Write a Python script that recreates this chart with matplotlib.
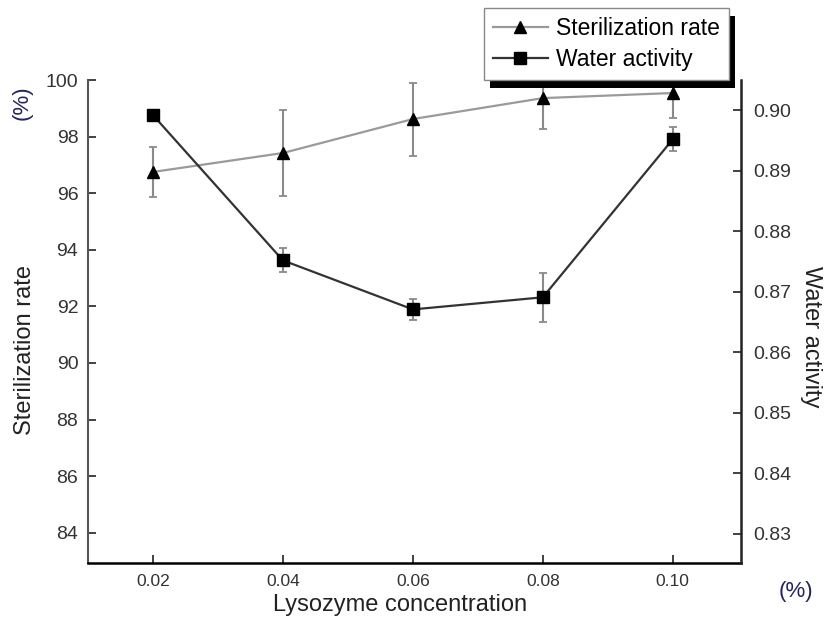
import matplotlib.pyplot as plt
from matplotlib.patches import Rectangle
from matplotlib.lines import Line2D

plt.rcParams['font.family'] = ['Liberation Sans', 'DejaVu Sans']
plt.rcParams['font.size'] = 12

conc = [0.02, 0.04, 0.06, 0.08, 0.10]
steril = [96.75, 97.42, 98.62, 99.36, 99.54]
steril_err = [0.87, 1.52, 1.29, 1.10, 0.88]
water = [0.8992, 0.8752, 0.8671, 0.8691, 0.8952]
water_err = [0.0005, 0.0020, 0.0018, 0.0040, 0.0020]

x_ticks = [0.02, 0.04, 0.06, 0.08, 0.10]
x_labels = ['0.02', '0.04', '0.06', '0.08', '0.10']
left_ticks = [84, 86, 88, 90, 92, 94, 96, 98, 100]
right_ticks = [0.83, 0.84, 0.85, 0.86, 0.87, 0.88, 0.89, 0.90]

fig = plt.figure(figsize=(8.27, 6.39), dpi=100)
ax = fig.add_axes([0.1064, 0.1189, 0.7896, 0.7559])
ax2 = ax.twinx()

ax.errorbar(conc, steril, yerr=steril_err, color='#9a9a9a', ecolor='#8a8a8a',
            elinewidth=1.5, capsize=3, capthick=1.3, lw=1.6, marker='^',
            ms=9, mfc='black', mec='black')
ax2.errorbar(conc, water, yerr=water_err, color='#333333', ecolor='#8a8a8a',
             elinewidth=1.5, capsize=3, capthick=1.3, lw=1.6, marker='s',
             ms=8, mfc='black', mec='black')

ax.set_xlim(0.01, 0.1105)
ax.set_ylim(82.93, 100)
ax2.set_ylim(0.8252, 0.905)

ax.set_xticks(x_ticks)
ax.set_xticklabels(x_labels)
ax.set_yticks(left_ticks)
ax2.set_yticks(right_ticks)
ax2.set_yticklabels(['%.2f' % v for v in right_ticks])

for a in (ax, ax2):
    a.spines['top'].set_visible(False)
    a.tick_params(direction='in', length=6, width=1.3, colors='#333333', pad=8)
ax.tick_params(axis='x', labelsize=12.5)
ax.tick_params(axis='y', labelsize=14, pad=7)
ax2.tick_params(axis='y', labelsize=14, pad=9)
ax.spines['right'].set_visible(False)
ax.spines['left'].set_color('#555555')
ax.spines['left'].set_linewidth(1.5)
ax.spines['bottom'].set_linewidth(1.8)
ax2.spines['left'].set_visible(False)
ax2.spines['bottom'].set_visible(False)
ax2.spines['right'].set_linewidth(1.8)
ax2.spines['right'].set_color('#222222')

ax.set_ylabel('Sterilization rate', fontsize=17, color='#222222')
ax.yaxis.set_label_coords(-0.080, 0.44)
ax2.set_ylabel('Water activity', fontsize=17, color='#222222', rotation=270)
ax2.yaxis.set_label_coords(1.124, 0.468)
ax.set_xlabel('Lysozyme concentration', fontsize=17, color='#222222')
ax.xaxis.set_label_coords(0.478, -0.064)

fig.text(0.027, 0.84, '(%)', rotation=90, fontsize=16, color='#23235e', ha='center', va='center')
fig.text(0.963, 0.075, '(%)', fontsize=16, color='#23235e', ha='center', va='center')

h1 = Line2D([], [], color='#9a9a9a', lw=1.6, marker='^', ms=9, mfc='black', mec='black')
h2 = Line2D([], [], color='#333333', lw=1.6, marker='s', ms=8, mfc='black', mec='black')
leg = fig.legend(handles=[h1, h2], labels=['Sterilization rate', 'Water activity'],
                 loc='upper left', bbox_to_anchor=(0.585, 0.988),
                 bbox_transform=fig.transFigure, fontsize=16.5, frameon=True,
                 fancybox=False, edgecolor='#888888', framealpha=1,
                 handlelength=2.4, borderpad=0.4, labelspacing=0.35,
                 handletextpad=0.35, borderaxespad=0)
leg.get_frame().set_linewidth(1.0)
leg.set_zorder(5)

fig.canvas.draw()
bb = leg.get_window_extent().transformed(fig.transFigure.inverted())
dx, dy = 6 / 827, 8 / 639
fig.patches.append(Rectangle((bb.x0 + dx, bb.y0 - dy), bb.width, bb.height,
                             transform=fig.transFigure, facecolor='black',
                             edgecolor='none', zorder=4))

fig.savefig('out.png', dpi=100)
